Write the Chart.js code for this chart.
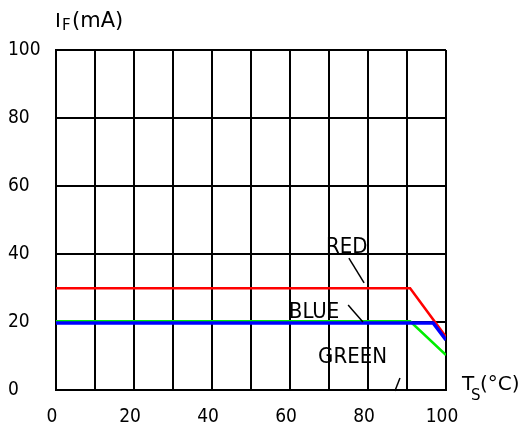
<!DOCTYPE html>
<html>
<head>
<meta charset="utf-8">
<script src="https://cdn.jsdelivr.net/npm/chart.js@4/dist/chart.umd.min.js"></script>
<style>
  html, body { margin: 0; padding: 0; background: #fff; }
  #wrap { position: relative; width: 524px; height: 434px; }
</style>
</head>
<body>
<div id="wrap"><canvas id="c"></canvas></div>
<script>
// temperature breakpoints (Ts, °C) and forward current (IF, mA)
const redTemp   = [0, 90.8, 100];
const redIF     = [29.9, 29.9, 15.6];
const blueTemp  = [0, 96.7, 100];
const blueIF    = [19.7, 19.7, 14.7];
const greenTemp = [0, 90.8, 100];
const greenIF   = [20.2, 20.2, 10.3];

const xTicks = [0, 20, 40, 60, 80, 100];
const yTicks = [0, 20, 40, 60, 80, 100];

// callout labels with leader lines, in data units
const callouts = [
  { text: "RED",   tx: 69.2, ty: 40.3, from: [75.1, 38.8], to: [79.0, 31.5] },
  { text: "BLUE",  tx: 59.7, ty: 21.2, from: [74.9, 25.0], to: [78.7, 20.0] },
  { text: "GREEN", tx: 67.2, ty: 7.9,  from: [88.2, 3.5],  to: [86.9, -0.3] },
];

const FONT = "'DejaVu Sans Condensed', 'Liberation Sans Narrow', sans-serif";
const TFONT = "'DejaVu Sans', sans-serif";

const pts = (xs, ys) => xs.map((x, i) => ({ x, y: ys[i] }));

const calloutPlugin = {
  id: "callouts",
  afterDraw(chart) {
    const { ctx, scales: { x, y }, chartArea: a } = chart;
    ctx.save();
    ctx.fillStyle = "#000";
    ctx.strokeStyle = "#000";
    ctx.lineWidth = 1.5;
    ctx.font = "22px " + FONT;
    ctx.textBaseline = "alphabetic";
    ctx.textAlign = "left";
    callouts.forEach((c) => {
      ctx.fillText(c.text, x.getPixelForValue(c.tx), y.getPixelForValue(c.ty));
      ctx.beginPath();
      ctx.moveTo(x.getPixelForValue(c.from[0]), y.getPixelForValue(c.from[1]));
      ctx.lineTo(x.getPixelForValue(c.to[0]), y.getPixelForValue(c.to[1]));
      ctx.stroke();
    });
    // axis titles
    ctx.font = "20px " + TFONT;
    ctx.fillText("I", a.left - 1, a.top - 23);
    ctx.font = "15px " + TFONT;
    ctx.fillText("F", a.left + 6, a.top - 20);
    ctx.font = "21px " + TFONT;
    ctx.fillText("(mA)", a.left + 16, a.top - 23);

    ctx.font = "20px " + TFONT;
    ctx.fillText("T", a.right + 16, a.bottom);
    ctx.font = "15px " + TFONT;
    ctx.fillText("S", a.right + 25, a.bottom + 10);
    ctx.font = "20px " + TFONT;
    ctx.fillText("(\u00B0C)", a.right + 34, a.bottom);
    ctx.restore();
  }
};

new Chart(document.getElementById("c"), {
  type: "line",
  data: {
    datasets: [
      { label: "BLUE",  data: pts(blueTemp, blueIF),   borderColor: "#0000ff", borderWidth: 3.5 },
      { label: "RED",   data: pts(redTemp, redIF),     borderColor: "#ff0000", borderWidth: 2.5 },
      { label: "GREEN", data: pts(greenTemp, greenIF), borderColor: "#00ee00", borderWidth: 2.5 },
    ],
  },
  options: {
    responsive: true, maintainAspectRatio: false, animation: false,
    elements: { point: { radius: 0 }, line: { tension: 0 } },
    layout: { padding: { left: 8, top: 50, right: 78, bottom: 0 } },
    plugins: { legend: { display: false }, tooltip: { enabled: false } },
    scales: {
      x: {
        type: "linear", min: 0, max: 100,
        afterFit: (s) => { s.height = 44; },
        afterBuildTicks: (s) => { s.ticks = Array.from({ length: 11 }, (_, i) => ({ value: i * 10 })); },
        ticks: {
          color: "#000", font: { family: FONT, size: 19 }, padding: 16, labelOffset: -4,
          maxRotation: 0, autoSkip: false,
          callback: (v) => xTicks.includes(v) ? String(v) : "",
        },
        grid: { color: "#000", lineWidth: 2, drawTicks: false },
        border: { color: "#000", width: 2 },
      },
      y: {
        min: 0, max: 100,
        afterFit: (s) => { s.width = 48; },
        afterBuildTicks: (s) => { s.ticks = yTicks.map((v) => ({ value: v })); },
        ticks: { color: "#000", font: { family: FONT, size: 19 }, crossAlign: "far", padding: 4 },
        grid: { color: "#000", lineWidth: 2, drawTicks: false },
        border: { color: "#000", width: 2 },
      },
    },
  },
  plugins: [calloutPlugin],
});
</script>
</body>
</html>
